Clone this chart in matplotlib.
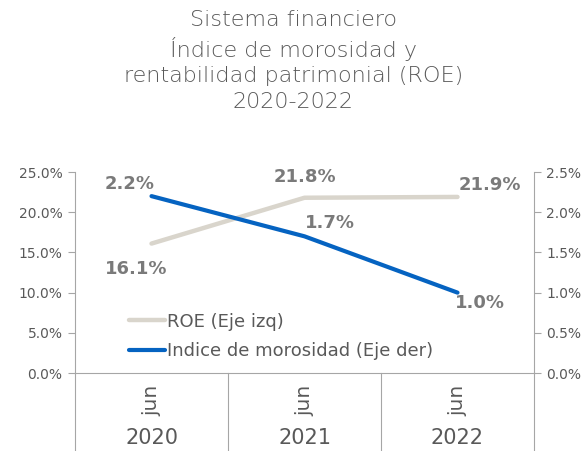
import matplotlib.pyplot as plt
from matplotlib.ticker import FuncFormatter

plt.rcParams["font.family"] = ["DejaVu Sans"]

periods = ["jun", "jun", "jun"]
years = ["2020", "2021", "2022"]
roe = [16.1, 21.8, 21.9]
morosidad = [2.2, 1.7, 1.0]

GRAY_TXT = "#595959"
GRAY_LBL = "#7a7a7a"
GRAY_AX = "#a6a6a6"
ROE_COLOR = "#d9d5cc"
MORA_COLOR = "#0563c1"

fig = plt.figure(figsize=(5.87, 4.51), dpi=100)
ax = fig.add_axes([0.1278, 0.1729, 0.7819, 0.4457])
ax2 = ax.twinx()

x = list(range(len(years)))
l1, = ax.plot(x, roe, color=ROE_COLOR, lw=3.2, solid_capstyle="round",
              label="ROE (Eje izq)")
l2, = ax2.plot(x, morosidad, color=MORA_COLOR, lw=3.0, solid_capstyle="round",
               label="Indice de morosidad (Eje der)")

ax.set_xlim(-0.5, 2.5)
ax.set_ylim(0, 25)
ax2.set_ylim(0, 2.5)
ax.set_yticks([0, 5, 10, 15, 20, 25])
ax2.set_yticks([0, 0.5, 1.0, 1.5, 2.0, 2.5])
ax.yaxis.set_major_formatter(FuncFormatter(lambda v, p: f"{v:.1f}%"))
ax2.yaxis.set_major_formatter(FuncFormatter(lambda v, p: f"{v:.1f}%"))

for a in (ax, ax2):
    for s in a.spines.values():
        s.set_visible(False)
    a.tick_params(axis="y", colors=GRAY_AX, labelcolor=GRAY_TXT,
                  labelsize=10, length=5, width=0.8, pad=4)
ax.spines["left"].set_visible(True)
ax.spines["left"].set_color(GRAY_AX)
ax2.spines["right"].set_visible(True)
ax2.spines["right"].set_color(GRAY_AX)
ax.spines["bottom"].set_visible(True)
ax.spines["bottom"].set_color(GRAY_AX)
ax.set_xticks([])

# category separators and labels below the axis
xt = ax.get_xaxis_transform()
for b in [-0.5, 0.5, 1.5, 2.5]:
    ax.plot([b, b], [0, -0.39], transform=xt, color=GRAY_AX, lw=0.8,
            clip_on=False)
for i in x:
    ax.text(i, -0.135, periods[i], transform=xt, rotation=90, ha="center",
            va="center", fontsize=14.5, color=GRAY_TXT)
    ax.text(i, -0.325, years[i], transform=xt, ha="center", va="center",
            fontsize=15, color=GRAY_TXT)

# data labels
roe_off = [(-15, -25), (0, 21), (32, 12)]
mora_off = [(-22, 12), (25, 13), (22, -10)]
for i in x:
    ax.annotate(f"{roe[i]:.1f}%", (i, roe[i]), xytext=roe_off[i],
                textcoords="offset pixels", ha="center", va="center",
                fontsize=13, color=GRAY_LBL, fontweight="bold")
    ax2.annotate(f"{morosidad[i]:.1f}%", (i, morosidad[i]), xytext=mora_off[i],
                 textcoords="offset pixels", ha="center", va="center",
                 fontsize=13, color=GRAY_LBL, fontweight="bold")

fig.legend(handles=[l1, l2], loc="upper left",
           bbox_to_anchor=(0.205, 0.327), frameon=False, fontsize=13,
           handlelength=2.0, handletextpad=0.1, labelspacing=0.65,
           borderpad=0, labelcolor=GRAY_TXT)

fig.text(0.5, 0.977, "Sistema financiero\nÍndice de morosidad y\n"
         "rentabilidad patrimonial (ROE)\n2020-2022",
         ha="center", va="top", fontsize=16, color=GRAY_TXT,
         linespacing=1.33, fontweight="light")

fig.savefig("out.png", dpi=100)
